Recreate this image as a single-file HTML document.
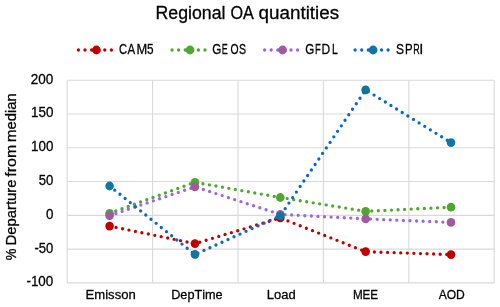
<!DOCTYPE html>
<html><head><meta charset="utf-8"><title>Regional OA quantities</title>
<style>html,body{margin:0;padding:0;background:#fff;}body{width:500px;height:307px;overflow:hidden;font-family:"Liberation Sans",sans-serif;}svg{display:block;}text{font-family:"Liberation Sans",sans-serif;fill:#000;font-kerning:none;stroke:#000;stroke-width:0.3px;}</style></head><body>
<svg width="500" height="307" viewBox="0 0 500 307">
<rect width="500" height="307" fill="#ffffff"/>
<g stroke="#D9D9D9" stroke-width="1.1" fill="none"><line x1="67.2" y1="80.20" x2="494.2" y2="80.20"/><line x1="67.2" y1="113.98" x2="494.2" y2="113.98"/><line x1="67.2" y1="147.77" x2="494.2" y2="147.77"/><line x1="67.2" y1="181.55" x2="494.2" y2="181.55"/><line x1="67.2" y1="215.33" x2="494.2" y2="215.33"/><line x1="67.2" y1="249.12" x2="494.2" y2="249.12"/><line x1="67.2" y1="282.90" x2="494.2" y2="282.90"/><line x1="67.20" y1="80.2" x2="67.20" y2="282.9"/><line x1="152.60" y1="80.2" x2="152.60" y2="282.9"/><line x1="238.00" y1="80.2" x2="238.00" y2="282.9"/><line x1="323.40" y1="80.2" x2="323.40" y2="282.9"/><line x1="408.80" y1="80.2" x2="408.80" y2="282.9"/><line x1="494.20" y1="80.2" x2="494.20" y2="282.9"/></g>
<line x1="78.39999999999999" y1="50.0" x2="115.7" y2="50.0" stroke="#C00000" stroke-width="3.3" stroke-linecap="round" stroke-dasharray="0 6.6"/>
<circle cx="96.4" cy="50.0" r="4.4" fill="#C00000"/>
<line x1="172.0" y1="50.0" x2="209.3" y2="50.0" stroke="#4EA72E" stroke-width="3.3" stroke-linecap="round" stroke-dasharray="0 6.6"/>
<circle cx="190.0" cy="50.0" r="4.4" fill="#4EA72E"/>
<line x1="264.6" y1="50.0" x2="301.9" y2="50.0" stroke="#9C66DF" stroke-width="3.3" stroke-linecap="round" stroke-dasharray="0 6.6"/>
<circle cx="282.6" cy="50.0" r="4.4" fill="#A05BA0"/>
<line x1="355.1" y1="50.0" x2="392.4" y2="50.0" stroke="#0768C8" stroke-width="3.3" stroke-linecap="round" stroke-dasharray="0 6.6"/>
<circle cx="373.1" cy="50.0" r="4.4" fill="#0E76A0"/>
<g opacity="0.999">
<text transform="translate(155.544 18.900) scale(0.9592 1)" font-size="18.5">Regional</text>
<text transform="translate(230.433 18.900) scale(0.8754 1)" font-size="18.5">OA</text>
<text transform="translate(258.509 18.900) scale(1.0187 1)" font-size="18.5">quantities</text>
<text transform="translate(118.881 53.700) scale(0.7732 1)" font-size="14.5">C</text>
<text transform="translate(127.428 53.700) scale(0.7905 1)" font-size="14.5">A</text>
<text transform="translate(136.395 53.700) scale(0.8866 1)" font-size="14.5">M</text>
<text transform="translate(146.977 53.700) scale(0.8146 1)" font-size="14.5">5</text>
<text transform="translate(212.365 53.700) scale(0.8029 1)" font-size="14.5">G</text>
<text transform="translate(221.708 53.700) scale(0.6235 1)" font-size="14.5">E</text>
<text transform="translate(230.457 53.700) scale(0.7173 1)" font-size="14.5">O</text>
<text transform="translate(238.969 53.700) scale(0.7308 1)" font-size="14.5">S</text>
<text transform="translate(305.365 53.700) scale(0.8029 1)" font-size="14.5">G</text>
<text transform="translate(314.978 53.700) scale(0.6491 1)" font-size="14.5">F</text>
<text transform="translate(321.467 53.700) scale(0.8267 1)" font-size="14.5">D</text>
<text transform="translate(332.094 53.700) scale(0.7195 1)" font-size="14.5">L</text>
<text transform="translate(396.106 53.700) scale(0.8266 1)" font-size="14.5">S</text>
<text transform="translate(405.010 53.700) scale(0.7904 1)" font-size="14.5">P</text>
<text transform="translate(413.218 53.700) scale(0.6156 1)" font-size="14.5">R</text>
<text transform="translate(419.162 53.700) scale(1.0000 1)" font-size="14.5">I</text>
<text transform="translate(30.718 83.650) scale(0.9611 1)" font-size="14.1">200</text>
<text transform="translate(30.980 117.150) scale(0.9498 1)" font-size="14.1">150</text>
<text transform="translate(30.980 151.250) scale(0.9498 1)" font-size="14.1">100</text>
<text transform="translate(38.673 185.050) scale(0.9335 1)" font-size="14.1">50</text>
<text transform="translate(45.877 218.550) scale(0.9495 1)" font-size="14.1">0</text>
<text transform="translate(34.419 252.650) scale(0.9270 1)" font-size="14.1">-50</text>
<text transform="translate(26.402 285.750) scale(0.9540 1)" font-size="14.1">-100</text>
<text transform="translate(16.000 260.166) rotate(-90) scale(0.9023 1)" font-size="14.5">%</text>
<text transform="translate(16.000 245.623) rotate(-90) scale(1.0280 1)" font-size="14.5">Departure</text>
<text transform="translate(16.000 176.625) rotate(-90) scale(1.0956 1)" font-size="14.5">from</text>
<text transform="translate(16.000 141.989) rotate(-90) scale(1.0273 1)" font-size="14.5">median</text>
<text transform="translate(85.576 299.000) scale(0.9561 1)" font-size="13.7">Emisson</text>
<text transform="translate(171.208 299.000) scale(0.9268 1)" font-size="13.7">DepTime</text>
<text transform="translate(266.784 299.000) scale(0.9484 1)" font-size="13.7">Load</text>
<text transform="translate(352.894 299.000) scale(0.8508 1)" font-size="13.7">MEE</text>
<text transform="translate(438.626 299.000) scale(0.8826 1)" font-size="13.7">AOD</text>
</g>
<g transform="scale(1 1.02)">
<polyline points="109.60,221.67 194.95,238.82 280.30,213.63 365.65,246.76 451.00,249.61" fill="none" stroke="#C00000" stroke-width="3.3" stroke-linecap="round" stroke-linejoin="round" stroke-dasharray="0 6.58"/>
<circle cx="109.60" cy="221.67" r="4.3" fill="#C00000"/>
<circle cx="194.95" cy="238.82" r="4.3" fill="#C00000"/>
<circle cx="280.30" cy="213.63" r="4.3" fill="#C00000"/>
<circle cx="365.65" cy="246.76" r="4.3" fill="#C00000"/>
<circle cx="451.00" cy="249.61" r="4.3" fill="#C00000"/>
<polyline points="109.60,209.12 194.95,178.73 280.30,193.63 365.65,207.16 451.00,203.14" fill="none" stroke="#4EA72E" stroke-width="3.3" stroke-linecap="round" stroke-linejoin="round" stroke-dasharray="0 6.58"/>
<circle cx="109.60" cy="209.12" r="4.3" fill="#4EA72E"/>
<circle cx="194.95" cy="178.73" r="4.3" fill="#4EA72E"/>
<circle cx="280.30" cy="193.63" r="4.3" fill="#4EA72E"/>
<circle cx="365.65" cy="207.16" r="4.3" fill="#4EA72E"/>
<circle cx="451.00" cy="203.14" r="4.3" fill="#4EA72E"/>
<polyline points="109.60,211.37 194.95,183.14 280.30,210.20 365.65,214.61 451.00,218.04" fill="none" stroke="#9C66DF" stroke-width="3.3" stroke-linecap="round" stroke-linejoin="round" stroke-dasharray="0 6.58"/>
<circle cx="109.60" cy="211.37" r="4.3" fill="#A05BA0"/>
<circle cx="194.95" cy="183.14" r="4.3" fill="#A05BA0"/>
<circle cx="280.30" cy="210.20" r="4.3" fill="#A05BA0"/>
<circle cx="365.65" cy="214.61" r="4.3" fill="#A05BA0"/>
<circle cx="451.00" cy="218.04" r="4.3" fill="#A05BA0"/>
<polyline points="109.60,182.35 194.95,249.51 280.30,211.57 365.65,88.14 451.00,139.80" fill="none" stroke="#0768C8" stroke-width="3.3" stroke-linecap="round" stroke-linejoin="round" stroke-dasharray="0 6.58"/>
<circle cx="109.60" cy="182.35" r="4.3" fill="#0E76A0"/>
<circle cx="194.95" cy="249.51" r="4.3" fill="#0E76A0"/>
<circle cx="280.30" cy="211.57" r="4.3" fill="#0E76A0"/>
<circle cx="365.65" cy="88.14" r="4.3" fill="#0E76A0"/>
<circle cx="451.00" cy="139.80" r="4.3" fill="#0E76A0"/>
</g>
</svg></body></html>
